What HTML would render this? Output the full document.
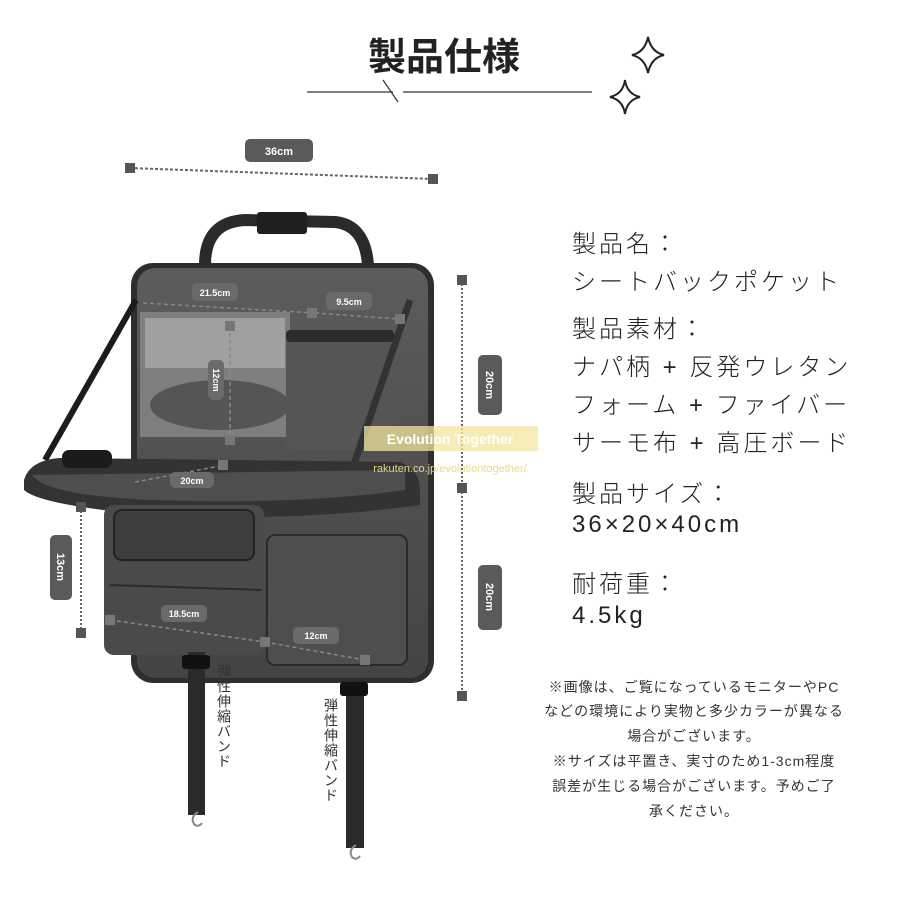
<!DOCTYPE html>
<html><head><meta charset="utf-8"><style>
body{margin:0;background:#fff;}
.w{position:relative;width:900px;height:900px;overflow:hidden;font-family:"Liberation Sans","Noto Sans CJK JP",sans-serif;color:#222;}
.t{position:absolute;white-space:nowrap;}
.spec{left:572px;font-size:24px;letter-spacing:3px;color:#222;font-weight:300;}
.note{left:505px;width:378px;text-align:center;font-size:14px;letter-spacing:1px;color:#333;}
.vt{position:absolute;writing-mode:vertical-rl;font-size:14px;color:#333;letter-spacing:1px;}
</style></head><body><div class="w">
<svg width="900" height="900" style="position:absolute;left:0;top:0">
<defs>
<linearGradient id="g1" x1="0" x2="0" y1="0" y2="1"><stop offset="0" stop-color="#5c5c5c"/><stop offset="1" stop-color="#444"/></linearGradient>
</defs>
<line x1="307" y1="92" x2="393" y2="92" stroke="#333" stroke-width="1.2"/>
<line x1="403" y1="92" x2="592" y2="92" stroke="#333" stroke-width="1.2"/>
<line x1="383" y1="80" x2="398" y2="102" stroke="#333" stroke-width="1.2"/>
<path d="M648 37 Q651 52 664 55 Q651 58 648 73 Q645 58 632 55 Q645 52 648 37Z" fill="none" stroke="#222" stroke-width="2"/>
<path d="M625 80 Q627 94 640 97 Q627 100 625 114 Q623 100 610 97 Q623 94 625 80Z" fill="none" stroke="#222" stroke-width="2"/>
<line x1="130" y1="168" x2="433" y2="179" stroke="#666" stroke-width="2" stroke-dasharray="3 2"/>
<rect x="125" y="163" width="10" height="10" fill="#555"/><rect x="428" y="174" width="10" height="10" fill="#555"/>
<rect x="245" y="139" width="68" height="23" rx="5" fill="#5a5a5a"/>
<text x="279" y="155" font-size="11" font-weight="bold" fill="#fff" text-anchor="middle" font-family="Liberation Sans">36cm</text>
<path d="M205 265 Q205 222 245 220 L335 222 Q365 225 368 265" fill="none" stroke="#2a2a2a" stroke-width="12"/>
<rect x="257" y="212" width="50" height="22" rx="3" fill="#1f1f1f"/>
<rect x="131" y="263" width="303" height="420" rx="22" fill="#2e2e2e"/>
<rect x="137" y="268" width="291" height="410" rx="18" fill="url(#g1)"/>
<rect x="140" y="312" width="150" height="125" fill="#7e7e7e"/>
<rect x="145" y="318" width="140" height="50" fill="#a0a0a0"/>
<ellipse cx="220" cy="405" rx="70" ry="25" fill="#555"/>
<rect x="286" y="332" width="108" height="118" rx="6" fill="#555"/>
<rect x="286" y="330" width="108" height="12" rx="4" fill="#2b2b2b"/>
<line x1="136" y1="300" x2="45" y2="460" stroke="#1c1c1c" stroke-width="6"/>
<line x1="410" y1="300" x2="340" y2="505" stroke="#333" stroke-width="7"/>
<path d="M24 480 Q30 460 60 458 L400 462 Q420 470 420 490 L420 505 Q300 522 150 515 Q40 505 24 490Z" fill="#333"/>
<path d="M32 475 L405 470 L405 490 Q300 505 150 500 Q45 495 32 475Z" fill="#4e4e4e"/>
<rect x="62" y="450" width="50" height="18" rx="7" fill="#1b1b1b"/>
<rect x="104" y="505" width="160" height="150" rx="10" fill="#4a4a4a"/>
<rect x="114" y="510" width="140" height="50" rx="8" fill="#3e3e3e" stroke="#222" stroke-width="2"/>
<line x1="110" y1="585" x2="262" y2="590" stroke="#2a2a2a" stroke-width="2"/>
<rect x="267" y="535" width="140" height="130" rx="8" fill="#4e4e4e" stroke="#2a2a2a" stroke-width="2"/>
<rect x="188" y="652" width="17" height="163" fill="#2a2a2a"/>
<rect x="182" y="655" width="28" height="14" rx="3" fill="#111"/>
<rect x="346" y="680" width="18" height="168" fill="#2a2a2a"/>
<rect x="340" y="682" width="28" height="14" rx="3" fill="#111"/>
<path d="M198 812 q-8 5 -4 12 q4 4 8 -1" fill="none" stroke="#888" stroke-width="2"/>
<path d="M356 845 q-8 5 -4 12 q4 4 8 -1" fill="none" stroke="#888" stroke-width="2"/>
<g stroke="#888" stroke-width="1.5" stroke-dasharray="4 3" fill="none">
<line x1="143" y1="303" x2="315" y2="313"/><line x1="315" y1="313" x2="400" y2="319"/>
<line x1="230" y1="326" x2="230" y2="440"/>
<line x1="135" y1="482" x2="225" y2="465"/>
<line x1="110" y1="620" x2="265" y2="642"/><line x1="265" y1="642" x2="365" y2="660"/>
</g>
<g fill="#777"><rect x="307" y="308" width="10" height="10"/><rect x="395" y="314" width="10" height="10"/><rect x="225" y="321" width="10" height="10"/><rect x="225" y="435" width="10" height="10"/><rect x="218" y="460" width="10" height="10"/><rect x="105" y="615" width="10" height="10"/><rect x="260" y="637" width="10" height="10"/><rect x="360" y="655" width="10" height="10"/></g>
<g fill="#6a6a6a"><rect x="192" y="283" width="46" height="18" rx="5"/><rect x="326" y="292" width="46" height="18" rx="5"/><rect x="208" y="360" width="16" height="40" rx="5"/><rect x="170" y="472" width="44" height="16" rx="5"/><rect x="161" y="605" width="46" height="17" rx="5"/><rect x="293" y="627" width="46" height="17" rx="5"/></g>
<g font-family="Liberation Sans" font-size="9" font-weight="bold" fill="#fff" text-anchor="middle">
<text x="215" y="296">21.5cm</text><text x="349" y="305">9.5cm</text><text x="192" y="484">20cm</text><text x="184" y="617">18.5cm</text><text x="316" y="639">12cm</text>
<text transform="translate(213,380) rotate(90)">12cm</text></g>
<line x1="462" y1="280" x2="462" y2="695" stroke="#666" stroke-width="2" stroke-dasharray="2 2"/>
<rect x="457" y="275" width="10" height="10" fill="#555"/><rect x="457" y="483" width="10" height="10" fill="#555"/><rect x="457" y="691" width="10" height="10" fill="#555"/>
<rect x="478" y="355" width="24" height="60" rx="5" fill="#5a5a5a"/><rect x="478" y="565" width="24" height="65" rx="5" fill="#5a5a5a"/>
<text transform="translate(486,385) rotate(90)" font-family="Liberation Sans" font-size="11" font-weight="bold" fill="#fff" text-anchor="middle">20cm</text>
<text transform="translate(486,597) rotate(90)" font-family="Liberation Sans" font-size="11" font-weight="bold" fill="#fff" text-anchor="middle">20cm</text>
<line x1="81" y1="507" x2="81" y2="632" stroke="#666" stroke-width="2" stroke-dasharray="2 2"/>
<rect x="76" y="502" width="10" height="10" fill="#555"/><rect x="76" y="628" width="10" height="10" fill="#555"/>
<rect x="50" y="535" width="22" height="65" rx="5" fill="#5a5a5a"/>
<text transform="translate(57,567) rotate(90)" font-family="Liberation Sans" font-size="11" font-weight="bold" fill="#fff" text-anchor="middle">13cm</text>
<rect x="364" y="426" width="174" height="25" fill="#f2e6a0" opacity="0.75"/>
<text x="450" y="444" font-family="Liberation Sans" font-size="14" font-weight="bold" fill="#fff" text-anchor="middle">Evolution Together</text>
<text x="450" y="472" font-family="Liberation Sans" font-size="11" fill="#e8d890" text-anchor="middle">rakuten.co.jp/evolutiontogether/</text>
</svg>
<div class="t" style="left:368px;top:26px;font-size:38px;font-weight:bold;color:#222;">製品仕様</div>
<div class="t spec" style="top:224px">製品名：</div>
<div class="t spec" style="top:262px">シートバックポケット</div>
<div class="t spec" style="top:309px">製品素材：</div>
<div class="t spec" style="top:347px">ナパ柄 + 反発ウレタン</div>
<div class="t spec" style="top:385px">フォーム + ファイバー</div>
<div class="t spec" style="top:423px">サーモ布 + 高圧ボード</div>
<div class="t spec" style="top:474px">製品サイズ：</div>
<div class="t spec" style="top:511px">36×20×40cm</div>
<div class="t spec" style="top:564px">耐荷重：</div>
<div class="t spec" style="top:602px">4.5kg</div>
<div class="t note" style="top:677px">※画像は、ご覧になっているモニターやPC</div>
<div class="t note" style="top:701px">などの環境により実物と多少カラーが異なる</div>
<div class="t note" style="top:726px">場合がございます。</div>
<div class="t note" style="top:751px">※サイズは平置き、実寸のため1-3cm程度</div>
<div class="t note" style="top:776px">誤差が生じる場合がございます。予めご了</div>
<div class="t note" style="top:801px">承ください。</div>
<div class="vt" style="left:214px;top:664px;">弾性伸縮バンド</div>
<div class="vt" style="left:321px;top:698px;">弾性伸縮バンド</div>
</div></body></html>
